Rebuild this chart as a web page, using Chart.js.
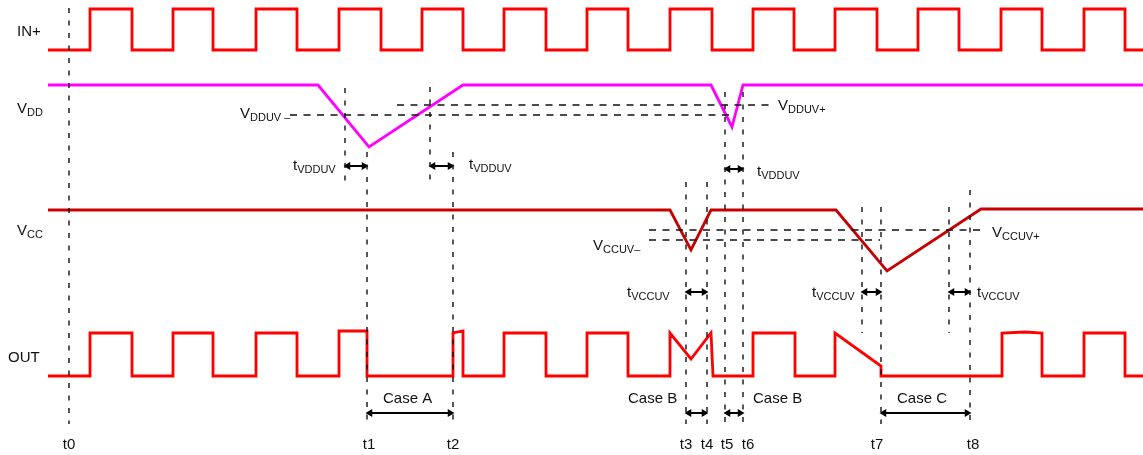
<!DOCTYPE html>
<html>
<head>
<meta charset="utf-8">
<script src="https://cdn.jsdelivr.net/npm/chart.js@4.4.1/dist/chart.umd.min.js"></script>
<style>
  html, body { margin: 0; padding: 0; background: #fff; }
  #wrap { width: 1143px; height: 455px; }
</style>
</head>
<body>
<div id="wrap"><canvas id="timing"></canvas></div>
<script>
// =====================
// Waveform data (x = time, y = level, diagram units)
// =====================

const inRise = [90, 173, 256, 339, 422, 504, 587, 670, 753, 835, 918, 1001, 1084];
const inFall = [132, 213, 297, 381, 463, 546, 628, 712, 794, 877, 959, 1042, 1125];
const inLow = 50;
const inHigh = 9;

const vddPath = [[48, 85], [318, 85], [369, 147], [463, 85], [711, 85], [732, 127], [743, 85], [1143, 85]];
const vccPath = [[48, 210], [670, 210], [691, 250], [711, 210], [836, 210], [887, 271], [981, 209], [1143, 209]];
const outPath = [
  [48, 376], [90, 376], [90, 333], [132, 333], [132, 376], [173, 376], [173, 333], [213, 333], [213, 376],
  [256, 376], [256, 333], [297, 333], [297, 376], [339, 376], [339, 331], [367, 331], [367, 376],
  [453, 376], [453, 333], [463, 331], [463, 376], [504, 376], [504, 333], [546, 333], [546, 376],
  [587, 376], [587, 333], [628, 333], [628, 376], [670, 376], [670, 333], [691, 359], [711, 333], [713, 376],
  [753, 376], [753, 333], [795, 333], [795, 376], [835, 376], [835, 333], [881, 366], [881, 376],
  [1002, 376], [1002, 333], [1025, 332], [1042, 333], [1042, 376], [1084, 376], [1084, 333], [1125, 333],
  [1125, 376], [1143, 376]
];

// vertical markers: [x, top, bottom]
const markers = [
  [69, 8, 424], [345, 88, 187], [367, 152, 424], [430, 87, 187], [453, 152, 424],
  [686, 182, 424], [707, 182, 424], [725, 92, 424], [743, 92, 424],
  [862, 207, 333], [881, 207, 424], [949, 207, 333], [970, 190, 424]
];

// thresholds: [y, x0, x1]
const thresholds = [[115, 290, 733], [105, 397, 770], [230, 649, 982], [240, 649, 880]];

// double arrows: [x0, x1, y]
const arrows = [
  [345, 367, 166], [430, 453, 166], [725, 743, 169],
  [686, 707, 292], [862, 881, 292], [949, 970, 292],
  [367, 453, 413], [686, 707, 413], [725, 743, 413], [881, 970, 413]
];

const timeNames = ["t0", "t1", "t2", "t3", "t4", "t5", "t6", "t7", "t8"];
const timeX = [69, 369, 453, 686, 707, 727, 748, 877, 973];

// text labels: [x, y, main, sub, size]
const labels = [
  [17, 36, "IN+", "", 15],
  [17, 113, "V", "DD", 15],
  [17, 235, "V", "CC", 15],
  [8, 362, "OUT", "", 15],
  [240, 118, "V", "DDUV –", 15],
  [778, 110, "V", "DDUV+", 15],
  [593, 250, "V", "CCUV–", 15],
  [992, 237, "V", "CCUV+", 15],
  [293, 170, "t", "VDDUV", 15],
  [469, 169, "t", "VDDUV", 15],
  [757, 176, "t", "VDDUV", 15],
  [627, 297, "t", "VCCUV", 15],
  [812, 297, "t", "VCCUV", 15],
  [977, 297, "t", "VCCUV", 15],
  [383, 403, "Case A", "", 15],
  [628, 403, "Case B", "", 15],
  [753, 403, "Case B", "", 15],
  [897, 403, "Case C", "", 15]
];

// =====================
// Build datasets
// =====================

const toPts = arr => arr.map(p => ({ x: p[0], y: p[1] }));

const inPts = [{ x: 48, y: inLow }];
inRise.forEach((r, i) => {
  inPts.push({ x: r, y: inLow }, { x: r, y: inHigh }, { x: inFall[i], y: inHigh }, { x: inFall[i], y: inLow });
});
inPts.push({ x: 1143, y: inLow });

const datasets = [];

markers.forEach(m => {
  datasets.push({
    data: [{ x: m[0], y: m[1] }, { x: m[0], y: m[2] }],
    borderColor: '#111', borderWidth: 1.4, borderDash: [5, 7.5], pointRadius: 0
  });
});

thresholds.forEach(t => {
  datasets.push({
    data: [{ x: t[1], y: t[0] }, { x: t[2], y: t[0] }],
    borderColor: '#111', borderWidth: 1.3, borderDash: [7, 6.5], pointRadius: 0
  });
});

arrows.forEach(a => {
  datasets.push({
    data: [{ x: a[0] + 3, y: a[2] }, { x: a[1] - 3, y: a[2] }],
    borderColor: '#000', backgroundColor: '#000', borderWidth: 2,
    pointStyle: 'triangle', pointRadius: 4.5, pointRotation: [-90, 90], pointBorderWidth: 0
  });
});

datasets.push({ data: inPts, borderColor: '#ff0000', borderWidth: 2.8, pointRadius: 0 });
datasets.push({ data: toPts(vddPath), borderColor: '#ff00ff', borderWidth: 2.8, pointRadius: 0 });
datasets.push({ data: toPts(vccPath), borderColor: '#c80000', borderWidth: 2.8, pointRadius: 0 });
datasets.push({ data: toPts(outPath), borderColor: '#ff0000', borderWidth: 2.8, pointRadius: 0 });

// =====================
// Text plugin
// =====================

const textPlugin = {
  id: 'textLabels',
  afterDatasetsDraw(chart) {
    const { ctx, scales } = chart;
    const sx = scales.x, sy = scales.y;
    ctx.save();
    ctx.fillStyle = '#111';
    ctx.textBaseline = 'alphabetic';
    ctx.textAlign = 'left';
    labels.forEach(l => {
      let x = sx.getPixelForValue(l[0]);
      const y = sy.getPixelForValue(l[1]);
      ctx.font = l[4] + 'px "Liberation Sans", Arial, sans-serif';
      ctx.fillText(l[2], x, y);
      if (l[3]) {
        x += ctx.measureText(l[2]).width;
        ctx.font = '11px "Liberation Sans", Arial, sans-serif';
        ctx.fillText(l[3], x, y + 3);
      }
    });
    ctx.font = '15px "Liberation Sans", Arial, sans-serif';
    ctx.textAlign = 'center';
    timeNames.forEach((n, i) => {
      ctx.fillText(n, sx.getPixelForValue(timeX[i]), sy.getPixelForValue(449));
    });
    ctx.restore();
  }
};

// =====================
// Chart
// =====================

new Chart(document.getElementById('timing'), {
  type: 'scatter',
  data: { datasets },
  options: {
    responsive: true,
    maintainAspectRatio: false,
    animation: false,
    showLine: true,
    layout: { padding: 0, autoPadding: false },
    plugins: { legend: { display: false }, tooltip: { enabled: false } },
    elements: { line: { tension: 0, borderCapStyle: 'butt', borderJoinStyle: 'miter' } },
    scales: {
      x: { type: 'linear', min: 0, max: 1143, display: false },
      y: { type: 'linear', min: 0, max: 455, reverse: true, display: false }
    }
  },
  plugins: [textPlugin]
});
</script>
</body>
</html>
